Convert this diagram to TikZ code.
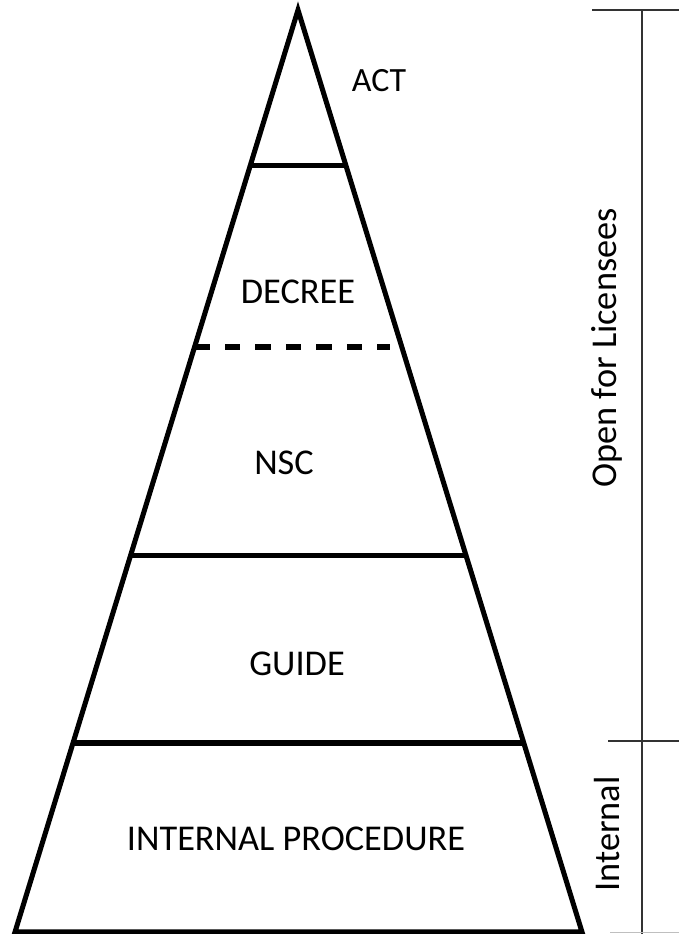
\documentclass[tikz,border=0pt]{standalone}
\usepackage{fontspec}
\setmainfont{Carlito}
\usetikzlibrary{calc,positioning}

\begin{document}
\begin{tikzpicture}[
    x=0.03cm, y=-0.03cm,
    pyrline/.style={line width=4.3pt, line join=miter},
    layerline/.style={line width=4.3pt},
    dashline/.style={line width=4.6pt, dash pattern=on 13\pgflinewidth/4.6 off 13\pgflinewidth/4.6},
    bracketline/.style={line width=1.1pt, draw=black!80},
    layerlabel/.style={font=\fontsize{31}{36}\selectfont, inner sep=0pt},
    sidelabel/.style={font=\fontsize{31}{36}\selectfont, inner sep=0pt, rotate=90}
]
\useasboundingbox (0,0) rectangle (679,934);

% Pyramid outline
\coordinate (apex) at (298,10);
\coordinate (bl) at (15,932);
\coordinate (br) at (582,932);
\draw[pyrline] (bl) -- (apex) -- (br) -- cycle;

% Layer borders
\draw[layerline] ($(apex)!0.169!(bl)$) -- ($(apex)!0.169!(br)$);
\draw[dashline] ($(apex)!0.3655!(bl)$) -- ($(apex)!0.3655!(br)+(-12,0)$);
\draw[layerline] ($(apex)!0.592!(bl)$) -- ($(apex)!0.592!(br)$);
\draw[layerline] ($(apex)!0.795!(bl)$) -- ($(apex)!0.795!(br)$);

% Layer labels
\node[layerlabel, font=\fontsize{29}{34}\selectfont] (act) at (379,81) {ACT};
\node[layerlabel] (decree) at (298,292) {DECREE};
\node[layerlabel] (nsc) at (284,463) {NSC};
\node[layerlabel] (guide) at (297,664) {GUIDE};
\node[layerlabel] (proc) at (296,839) {INTERNAL PROCEDURE};

% Access bracket
\coordinate (bartop) at (642,10);
\coordinate (barbot) at (642,934);
\draw[bracketline] (bartop) -- (barbot);
\draw[bracketline] (592,10) -- (679,10);
\draw[bracketline] (608,741) -- (679,741);
\draw[line width=0.8pt, draw=black!25] (610,932) -- (679,932);
\node[sidelabel] (openlbl) at (607,348) {Open for Licensees};
\node[sidelabel] (intlbl) at (607,834) {Internal};

\end{tikzpicture}
\end{document}
